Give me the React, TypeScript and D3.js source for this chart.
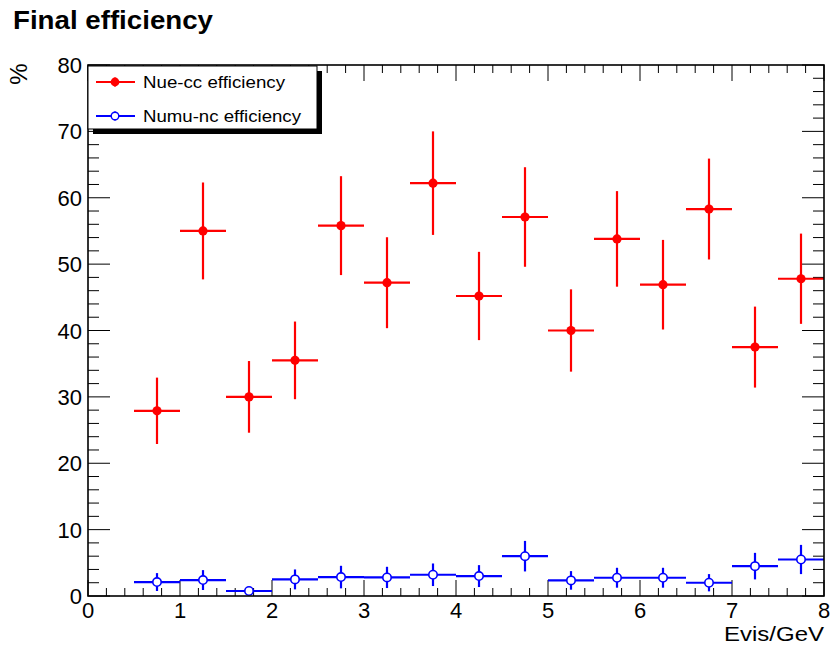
import React from "react";
import * as d3 from "d3";

const binCenters = [0.75, 1.25, 1.75, 2.25, 2.75, 3.25, 3.75, 4.25, 4.75, 5.25, 5.75, 6.25, 6.75, 7.25, 7.75];
const binHalfWidth = 0.25;
const nueEff = [27.9, 55.0, 30.0, 35.5, 55.8, 47.2, 62.2, 45.2, 57.1, 40.0, 53.8, 46.9, 58.3, 37.5, 47.8];
const nueErr = [5.0, 7.3, 5.4, 5.85, 7.45, 6.85, 7.8, 6.65, 7.5, 6.2, 7.2, 6.75, 7.6, 6.1, 6.8];
const numuEff = [2.1, 2.4, 0.75, 2.5, 2.85, 2.8, 3.2, 3.0, 6.0, 2.35, 2.75, 2.75, 2.0, 4.5, 5.5];
const numuErr = [1.35, 1.5, 0.5, 1.5, 1.7, 1.6, 1.7, 1.65, 2.3, 1.4, 1.5, 1.5, 1.3, 2.0, 2.2];
const xTicks = [0, 1, 2, 3, 4, 5, 6, 7, 8];
const yTicks = [0, 10, 20, 30, 40, 50, 60, 70, 80];
const legendLabels = ["Nue-cc efficiency", "Numu-nc efficiency"];
const legendWidths = [142, 158];
const title = "Final efficiency";
const xTitle = "Evis/GeV";
const yTitle = "%";

const W = 830, H = 649;
const L = 88, R = 824, T = 65, B = 596;
const FONT = "'Liberation Sans', Arial, Helvetica, sans-serif";

export default function App() {
  const x = d3.scaleLinear().domain([0, 8]).range([L, R]);
  const y = d3.scaleLinear().domain([0, 80]).range([B, T]);
  const xMinor = d3.range(0, 8.0001, 0.2);
  const yMinor = d3.range(0, 80.0001, 2);
  const xMajLen = 16, xMinLen = 8, yMajLen = 22, yMinLen = 11;
  const isMajX = (v: number) => Math.abs(v - Math.round(v)) < 1e-6;
  const isMajY = (v: number) => Math.abs(v / 10 - Math.round(v / 10)) < 1e-6;

  const series = [
    { eff: nueEff, err: nueErr, color: "#ff0000", open: false },
    { eff: numuEff, err: numuErr, color: "#0000ff", open: true },
  ];

  return (
    <svg width={W} height={H} style={{ position: "absolute", left: 0, top: 0 }} fontFamily={FONT}>
      <rect x={0} y={0} width={W} height={H} fill="#fff" />
      <text x={13} y={29} fontSize={25} fontWeight="bold" fill="#000" textLength={200} lengthAdjust="spacingAndGlyphs">{title}</text>

      {/* ticks */}
      <g stroke="#000" strokeWidth={1}>
        {xMinor.map((v, i) => {
          const len = isMajX(v) ? xMajLen : xMinLen;
          return (
            <g key={"xt" + i}>
              <line x1={x(v)} x2={x(v)} y1={B} y2={B - len} />
              <line x1={x(v)} x2={x(v)} y1={T} y2={T + len} />
            </g>
          );
        })}
        {yMinor.map((v, i) => {
          const len = isMajY(v) ? yMajLen : yMinLen;
          return (
            <g key={"yt" + i}>
              <line x1={L} x2={L + len} y1={y(v)} y2={y(v)} />
              <line x1={R} x2={R - len} y1={y(v)} y2={y(v)} />
            </g>
          );
        })}
      </g>

      {/* data */}
      {series.map((s, si) => (
        <g key={"s" + si}>
          {binCenters.map((c, i) => (
            <g key={i} stroke={s.color} strokeWidth={2.2}>
              <line x1={x(c - binHalfWidth)} x2={x(c + binHalfWidth)} y1={y(s.eff[i])} y2={y(s.eff[i])} />
              <line x1={x(c)} x2={x(c)} y1={y(Math.max(0, s.eff[i] - s.err[i]))} y2={y(s.eff[i] + s.err[i])} />
            </g>
          ))}
          {binCenters.map((c, i) => (
            <circle
              key={"m" + i}
              cx={x(c)}
              cy={y(s.eff[i])}
              r={s.open ? 4.2 : 4.6}
              fill={s.open ? "#fff" : s.color}
              stroke={s.color}
              strokeWidth={s.open ? 1.6 : 0}
            />
          ))}
        </g>
      ))}

      {/* frame */}
      <rect x={L} y={T} width={R - L} height={B - T} fill="none" stroke="#000" strokeWidth={1.6} />

      {/* tick labels */}
      <g fontSize={22} fill="#000">
        {xTicks.map((v) => (
          <text key={"xl" + v} x={x(v)} y={B + 22} textAnchor="middle">{v}</text>
        ))}
        {yTicks.map((v) => (
          <text key={"yl" + v} x={L - 6} y={y(v) + 8} textAnchor="end">{v}</text>
        ))}
      </g>
      <text x={R} y={641} fontSize={20} textAnchor="end" fill="#000" textLength={100} lengthAdjust="spacingAndGlyphs">{xTitle}</text>
      <text transform={`translate(27, 74) rotate(-90)`} fontSize={24} textAnchor="middle" fill="#000">{yTitle}</text>

      {/* legend */}
      <rect x={93} y={71} width={229} height={63} fill="#000" />
      <rect x={88} y={66} width={229} height={63} fill="#fff" stroke="#000" strokeWidth={1} />
      {series.map((s, i) => {
        const ly = 82 + i * 34;
        return (
          <g key={"lg" + i}>
            <line x1={96} x2={135} y1={ly} y2={ly} stroke={s.color} strokeWidth={2} />
            <line x1={115} x2={115} y1={ly - 5} y2={ly + 5} stroke={s.color} strokeWidth={1} />
            <circle cx={115} cy={ly} r={s.open ? 3.8 : 4.4} fill={s.open ? "#fff" : s.color} stroke={s.color} strokeWidth={s.open ? 1.4 : 0} />
            <text x={143} y={ly + 6} fontSize={17} fill="#000" textLength={legendWidths[i]} lengthAdjust="spacingAndGlyphs">{legendLabels[i]}</text>
          </g>
        );
      })}
    </svg>
  );
}
